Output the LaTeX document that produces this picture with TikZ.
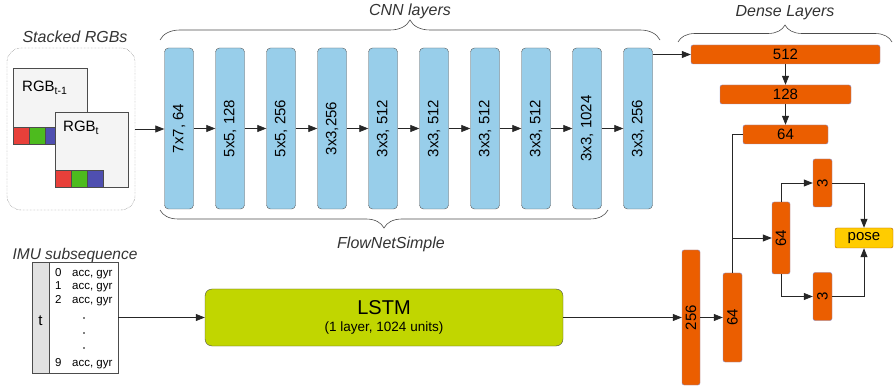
\documentclass[tikz,border=0pt]{standalone}
\usepackage{fontspec}
\setmainfont{Liberation Sans}
\usetikzlibrary{positioning,arrows.meta,decorations.pathreplacing}

\definecolor{cnnblue}{HTML}{98CEEA}
\definecolor{denseorange}{HTML}{EB5E00}
\definecolor{denseedge}{HTML}{8A90D0}
\definecolor{lstmgreen}{HTML}{C1D600}
\definecolor{posegold}{HTML}{FFCC00}
\definecolor{frameface}{HTML}{F4F4F4}
\definecolor{imugray}{HTML}{E2E2E2}
\definecolor{chred}{HTML}{E8403A}
\definecolor{chgreen}{HTML}{4DBB1E}
\definecolor{chblue}{HTML}{4F4FB0}
\definecolor{labelgray}{HTML}{333333}

\tikzset{
  link/.style={draw=black!85, line width=0.8pt, -{Triangle[length=9pt,width=7pt]}},
  plain/.style={draw=black!85, line width=0.8pt},
  cnnlayer/.style={draw=black!65, fill=cnnblue, rounded corners=4pt, inner sep=0pt,
    minimum width=29pt, minimum height=161pt, font=\fontsize{15}{15}\selectfont},
  dense/.style={draw=denseedge, fill=denseorange, rounded corners=2pt, inner sep=0pt,
    font=\fontsize{15}{15}\selectfont},
  title/.style={text=labelgray, font=\fontsize{16}{16}\selectfont\itshape},
  brace/.style={draw=black!70, line width=0.6pt, decorate, decoration={brace, amplitude=#1}},
  entry/.style={inner sep=0pt, anchor=base west, font=\fontsize{11.5}{11.5}\selectfont},
}

\def\prevframe{(13,68) rectangle (87,144)}
\def\curframe{(55,112) rectangle (128,187)}

\begin{document}
\begin{tikzpicture}[x=1pt,y=-1pt]
  \useasboundingbox (0,0) rectangle (894,387);

  % stacked input frames
  \node[draw=black!70, densely dotted, rounded corners=14pt, minimum width=128pt,
    minimum height=162pt] (stack) at (71,129) {};
  \node[title] (stacklabel) at (75,37) {Stacked RGBs};

  \fill[frameface] \prevframe;
  \draw[black!70, fill=chred] (13,127) rectangle (29,144);
  \draw[black!70, fill=chgreen] (29,127) rectangle (45,144);
  \draw[black!70, fill=chblue] (45,127) rectangle (61,144);
  \draw[black!70, line width=0.8pt] \prevframe;
  \node[anchor=base west, inner sep=0pt, font=\fontsize{15}{15}\selectfont] (rgbprev) at (22,92) {RGB\textsubscript{t-1}};

  \fill[frameface] \curframe;
  \draw[black!70, fill=chred] (55,170) rectangle (71,187);
  \draw[black!70, fill=chgreen] (71,170) rectangle (87,187);
  \draw[black!70, fill=chblue] (87,170) rectangle (103,187);
  \draw[black!70, line width=0.8pt] \curframe;
  \node[anchor=base west, inner sep=0pt, font=\fontsize{15}{15}\selectfont] (rgbcur) at (63,132) {RGB\textsubscript{t}};

  % convolutional stack
  \foreach \lbl [count=\i] in {{7x7, 64},{5x5, 128},{5x5, 256},{3x3,256},{3x3, 512},
      {3x3, 512},{3x3, 512},{3x3, 512},{3x3, 1024},{3x3, 256}}
    \node[cnnlayer] (c\i) at ({128+51*\i},128.5) {\rotatebox{90}{\lbl}};
  \foreach \i in {1,...,9} {
    \pgfmathtruncatemacro\nxt{\i+1}
    \draw[link] (c\i) -- (c\nxt);
  }
  \draw[link] (stack.east) -- (stack.east -| c1.west);

  \draw[brace=20pt] (160,40) -- (660,40);
  \node[title] (cnnlabel) at (410,11) {CNN layers};
  \draw[brace=18pt] (608,210) -- (160,210);
  \node[title] (flowlabel) at (391,244) {FlowNetSimple};

  % fully connected layers
  \node[dense, minimum width=189pt, minimum height=19pt] (d512) at (785.5,54.5) {512};
  \node[dense, minimum width=131pt, minimum height=19pt] (d128) at (785.5,94.5) {128};
  \node[dense, minimum width=85pt, minimum height=19pt] (d64) at (785.5,134.5) {64};
  \draw[link] (c10.east |- d512.west) -- (d512.west);
  \draw[link] (d512) -- (d128);
  \draw[link] (d128) -- (d64);
  \draw[brace=17pt] (678,42) -- (892,42);
  \node[title] (denselabel) at (785,13) {Dense Layers};

  % inertial branch
  \node[title, font=\fontsize{15.5}{15.5}\selectfont\itshape] (imulabel) at (75,255) {IMU subsequence};
  \filldraw[draw=black!70, fill=imugray] (32,262) rectangle (49,373);
  \node[draw=black!70, line width=0.8pt, minimum width=86pt, minimum height=111pt, inner sep=0pt] (imu) at (75,317.5) {};
  \node[font=\fontsize{15}{15}\selectfont] (tcol) at (40.5,321) {t};
  \foreach \n/\y in {0/277,1/290,2/304,9/366} {
    \node[entry] (idx\n) at (55,\y) {\n};
    \node[entry] (val\n) at (72,\y) {acc, gyr};
  }
  \foreach \y in {318,333,348}
    \fill (84,\y) circle (0.8pt);

  \node[draw=black!70, fill=lstmgreen, rounded corners=7pt, minimum width=358pt,
    minimum height=57pt, align=center, inner sep=0pt] (lstm) at (384,317.5)
    {\fontsize{20}{20}\selectfont LSTM\\[5pt]\fontsize{13.5}{14}\selectfont (1 layer, 1024 units)};
  \draw[link] (imu.east) -- (lstm.west);

  % fusion and pose regression
  \node[dense, minimum width=18pt, minimum height=135pt] (n256) at (691,317.5) {\rotatebox{90}{256}};
  \node[dense, minimum width=19pt, minimum height=89pt] (n64a) at (732.5,317.5) {\rotatebox{90}{64}};
  \node[dense, minimum width=18pt, minimum height=72pt] (n64b) at (781,238) {\rotatebox{90}{64}};
  \node[dense, minimum width=19pt, minimum height=48pt] (p3a) at (822.5,183) {\rotatebox{90}{3}};
  \node[dense, minimum width=19pt, minimum height=48pt] (p3b) at (822.5,296.5) {\rotatebox{90}{3}};
  \node[draw=black!30!orange, fill=posegold, rounded corners=2pt, minimum width=58pt,
    minimum height=20pt, inner sep=0pt, font=\fontsize{15}{15}\selectfont] (pose) at (864,238) {pose};

  \draw[link] (lstm) -- (n256);
  \draw[link] (n256) -- (n64a);
  \draw[plain] (n64a.north) |- (d64.west);
  \coordinate (split) at (n64a.north |- n64b.west);
  \draw[link] (split) -- (n64b.west);
  \draw[link] (n64b.north) |- (p3a.west);
  \draw[link] (n64b.south) |- (p3b.west);
  \draw[link] (p3a.east) -| (pose.north);
  \draw[link] (p3b.east) -| (pose.south);
\end{tikzpicture}
\end{document}
